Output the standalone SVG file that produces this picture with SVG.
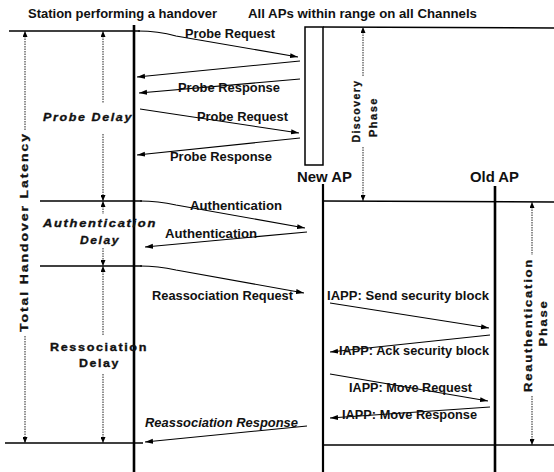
<svg xmlns="http://www.w3.org/2000/svg" width="554" height="472" viewBox="0 0 554 472">
<style>
text{font-family:"Liberation Sans",Arial,sans-serif;font-weight:bold;fill:#111;}
.m{font-size:12px;}
.h{font-size:12.5px;}
.ap{font-size:14px;}
.d{font-size:11.5px;font-style:italic;letter-spacing:1.5px;stroke:#111;stroke-width:0.35;}
.du{font-size:11.5px;letter-spacing:1.5px;stroke:#111;stroke-width:0.35;}
.v{font-size:11px;letter-spacing:1.5px;stroke:#111;stroke-width:0.3;}
.life{stroke:#000;fill:none;}
.hl{stroke:#000;stroke-width:1.6;fill:none;}
.msg{stroke:#000;stroke-width:1.1;fill:none;marker-end:url(#ah);}
.dim{stroke:#222;stroke-width:1;stroke-dasharray:1.5 1;fill:none;}
.up{marker-start:url(#dh);}
.dn{marker-end:url(#dh);}
</style>
<defs>
<marker id="ah" markerUnits="userSpaceOnUse" markerWidth="8" markerHeight="6" refX="8" refY="3" orient="auto"><path d="M0,0.5 L8,3 L0,5.5 z" fill="#000"/></marker>
<marker id="dh" markerUnits="userSpaceOnUse" markerWidth="6" markerHeight="5" refX="6" refY="2.5" orient="auto-start-reverse"><path d="M0,0 L6,2.5 L0,5 z" fill="#000"/></marker>
</defs>
<rect width="554" height="472" fill="#fff"/>

<g id="headers">
<text class="h" x="28" y="18" textLength="189" lengthAdjust="spacingAndGlyphs">Station performing a handover</text>
<text class="h" x="248" y="18" textLength="229" lengthAdjust="spacingAndGlyphs">All APs within range on all Channels</text>
</g>

<g id="station">
<line class="life" x1="134" y1="25" x2="134" y2="472" stroke-width="2.6"/>
</g>
<g id="newAP">
<rect x="305" y="27" width="18" height="138" fill="#fff" stroke="#000" stroke-width="1.5"/>
<text class="ap" x="297" y="182" textLength="55" lengthAdjust="spacingAndGlyphs">New AP</text>
<line class="life" x1="323" y1="184" x2="323" y2="472" stroke-width="2.2"/>
</g>
<g id="oldAP">
<text class="ap" x="470" y="182" textLength="49" lengthAdjust="spacingAndGlyphs">Old AP</text>
<line class="life" x1="495" y1="186" x2="495" y2="472" stroke-width="2.6"/>
</g>

<g id="phase-lines">
<line class="hl" x1="9" y1="31" x2="140" y2="31"/>
<line class="hl" x1="323" y1="27" x2="554" y2="28"/>
<line class="hl" x1="40" y1="201" x2="142" y2="201"/>
<line class="hl" x1="323" y1="201" x2="554" y2="202"/>
<line class="hl" x1="40" y1="266" x2="142" y2="266"/>
<line class="hl" x1="5" y1="443" x2="143" y2="443"/>
<line class="hl" x1="323" y1="445" x2="554" y2="445"/>
</g>

<g id="dimensions">
<line class="dim up" x1="25" y1="31" x2="25" y2="130"/>
<line class="dim dn" x1="25" y1="336" x2="25" y2="443"/>
<text class="v" transform="translate(28,232) rotate(-90)" text-anchor="middle" textLength="200" lengthAdjust="spacingAndGlyphs">Total Handover Latency</text>

<line class="dim up" x1="103" y1="31" x2="103" y2="103"/>
<line class="dim dn" x1="103" y1="134" x2="103" y2="201"/>
<text class="d" x="43" y="121" textLength="90" lengthAdjust="spacingAndGlyphs">Probe Delay</text>

<line class="dim up" x1="103" y1="201" x2="103" y2="214"/>
<line class="dim dn" x1="103" y1="248" x2="103" y2="266"/>
<text class="d" x="43" y="227" textLength="114" lengthAdjust="spacingAndGlyphs">Authentication</text>
<text class="d" x="80" y="244" textLength="40" lengthAdjust="spacingAndGlyphs">Delay</text>

<line class="dim up" x1="103" y1="266" x2="103" y2="335"/>
<line class="dim dn" x1="103" y1="374" x2="103" y2="443"/>
<text class="du" x="50" y="351" textLength="98" lengthAdjust="spacingAndGlyphs">Ressociation</text>
<text class="du" x="79" y="367" textLength="41" lengthAdjust="spacingAndGlyphs">Delay</text>

<line class="dim up" x1="363" y1="27" x2="363" y2="77"/>
<line class="dim dn" x1="363" y1="147" x2="363" y2="201"/>
<text class="v" transform="translate(360,111) rotate(-90)" text-anchor="middle" textLength="63" lengthAdjust="spacingAndGlyphs">Discovery</text>
<text class="v" transform="translate(377,117) rotate(-90)" text-anchor="middle" textLength="40" lengthAdjust="spacingAndGlyphs">Phase</text>

<line class="dim up" x1="532" y1="202" x2="532" y2="255"/>
<line class="dim dn" x1="532" y1="396" x2="532" y2="445"/>
<text class="v" transform="translate(532,325) rotate(-90)" text-anchor="middle" textLength="134" lengthAdjust="spacingAndGlyphs">Reauthentication</text>
<text class="v" transform="translate(547,323) rotate(-90)" text-anchor="middle" textLength="47" lengthAdjust="spacingAndGlyphs">Phase</text>
</g>

<g id="connectors">
<path class="msg" d="M138,31 Q158,31 176,36 L298,57"/>
<path class="msg" d="M300,61 L137,77"/>
<path class="msg" d="M300,79 L139,93"/>
<path class="msg" d="M140,109 L299,133"/>
<path class="msg" d="M300,138 L137,155"/>
<path class="msg" d="M140,201 Q158,201 176,205 L305,228"/>
<path class="msg" d="M307,232 L145,247"/>
<path class="msg" d="M140,266 Q158,266 176,270 L304,293"/>
<path class="msg" d="M330,303 L489,328"/>
<path class="msg" d="M490,335 L330,352"/>
<path class="msg" d="M330,374 L488,401"/>
<path class="msg" d="M490,407 L330,418"/>
<path class="msg" d="M307,426 L145,442"/>
</g>

<g id="message-labels">
<text class="m" x="185" y="38" textLength="90" lengthAdjust="spacingAndGlyphs">Probe Request</text>
<text class="m" x="178" y="92" textLength="102" lengthAdjust="spacingAndGlyphs">Probe Response</text>
<text class="m" x="197" y="121" textLength="91" lengthAdjust="spacingAndGlyphs">Probe Request</text>
<text class="m" x="170" y="161" textLength="102" lengthAdjust="spacingAndGlyphs">Probe Response</text>
<text class="m" x="190" y="210" textLength="92" lengthAdjust="spacingAndGlyphs">Authentication</text>
<text class="m" x="165" y="238" textLength="92" lengthAdjust="spacingAndGlyphs">Authentication</text>
<text class="m" x="152" y="300" textLength="141" lengthAdjust="spacingAndGlyphs">Reassociation Request</text>
<text class="m" x="327" y="300" textLength="162" lengthAdjust="spacingAndGlyphs">IAPP: Send security block</text>
<text class="m" x="339" y="355" textLength="150" lengthAdjust="spacingAndGlyphs">IAPP: Ack security block</text>
<text class="m" x="349" y="392" textLength="123" lengthAdjust="spacingAndGlyphs">IAPP: Move Request</text>
<text class="m" x="342" y="419" textLength="135" lengthAdjust="spacingAndGlyphs">IAPP: Move Response</text>
<text class="m" x="145" y="427" font-style="italic" textLength="153" lengthAdjust="spacingAndGlyphs">Reassociation Response</text>
</g>
</svg>
